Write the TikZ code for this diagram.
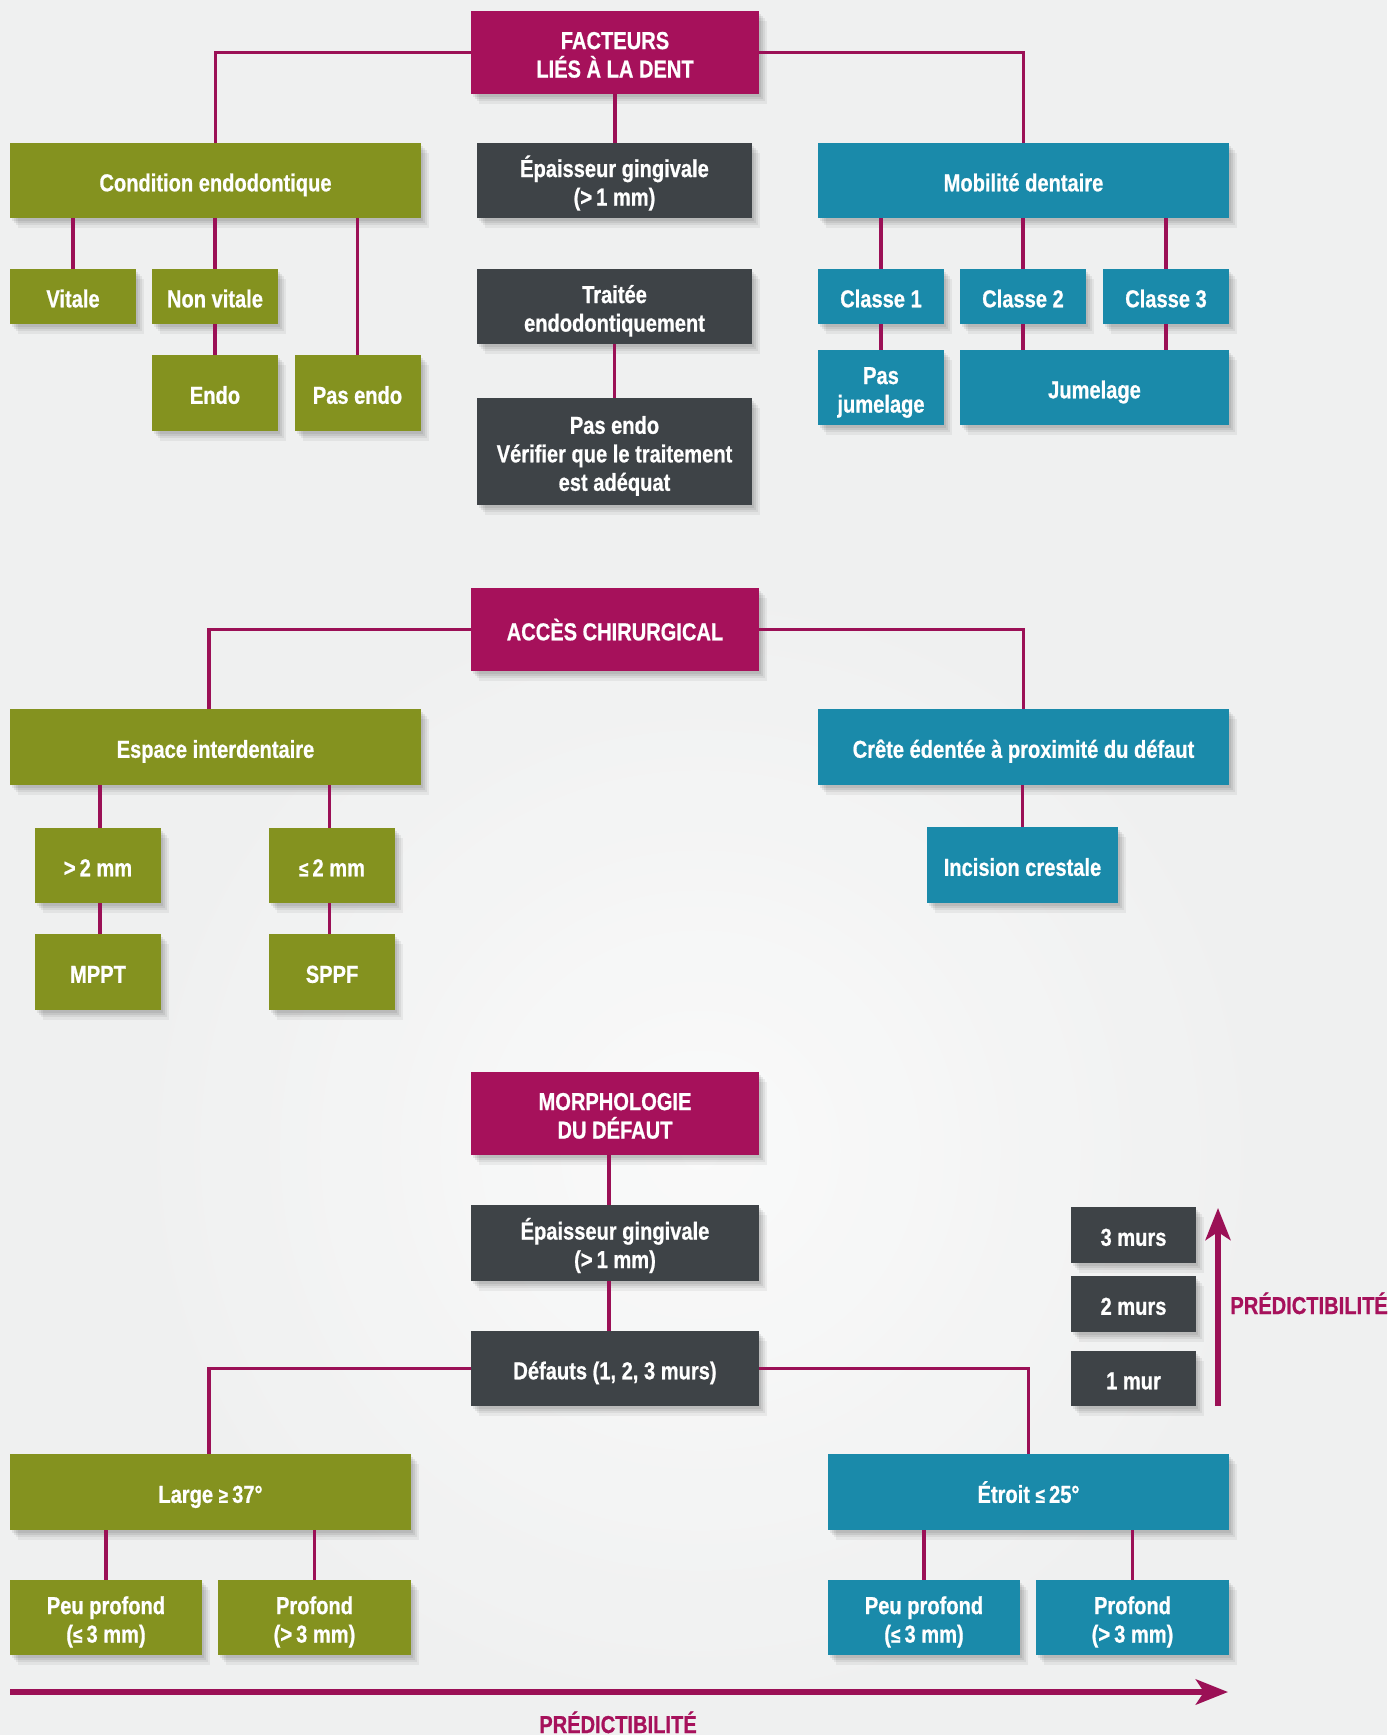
\documentclass[tikz,border=0pt]{standalone}
\usepackage{fontspec}
\setmainfont{Liberation Sans}[FakeStretch=0.82,BoldFeatures={FakeBold=0.7}]
\usetikzlibrary{shadows,arrows.meta}
\definecolor{bgc}{RGB}{239,240,240}
\definecolor{magbox}{RGB}{166,17,91}
\definecolor{conn}{RGB}{155,16,86}
\definecolor{greenbox}{RGB}{132,146,31}
\definecolor{tealbox}{RGB}{26,138,170}
\definecolor{darkbox}{RGB}{62,67,71}
\newcommand\topstrut{\rule{0pt}{13.8pt}}
\newcommand\botstrut{\rule[-3pt]{0pt}{3pt}}
\newcommand\lesign{{\fontsize{10.5}{12}\selectfont ≤}}
\newcommand\gesign{{\fontsize{10.5}{12}\selectfont ≥}}
\begin{document}
\begin{tikzpicture}[x=0.5pt,y=-0.5pt,
  box/.style={rectangle, inner sep=0pt, text=white,
    font=\bfseries\fontsize{12.25}{14.25}\selectfont, align=center,
    execute at begin node=\topstrut, execute at end node=\botstrut,
    drop shadow={shadow xshift=1pt, shadow yshift=-1.5pt, opacity=0.07, fill=black},
    drop shadow={shadow xshift=2pt, shadow yshift=-2.5pt, opacity=0.07, fill=black},
    drop shadow={shadow xshift=3pt, shadow yshift=-3.5pt, opacity=0.06, fill=black},
    drop shadow={shadow xshift=4pt, shadow yshift=-5pt, opacity=0.05, fill=black}},
  sz/.style 2 args={minimum width=#1*0.5pt, minimum height=#2*0.5pt},
  magb/.style={box, fill=magbox},
  greenb/.style={box, fill=greenbox},
  tealb/.style={box, fill=tealbox},
  darkb/.style={box, fill=darkbox},
  link/.style={draw=conn, line width=1.8pt},
  predarrow/.style={draw=conn, line width=3pt, -{Stealth[length=16pt,width=12.5pt,inset=4pt]}},
  predlabel/.style={text=magbox, font=\bfseries\fontsize{12.25}{14.25}\selectfont, inner sep=0pt}
]
\useasboundingbox (0,0) rectangle (1387,1735);
\fill[bgc] (0,0) rectangle (1387,1735);
\shade[inner color=white, outer color=bgc, opacity=0.7] (700,1150) circle[radius=600];

% ---------- Section 1 ----------
\node[magb, sz={288}{83}] (fact) at (615,52.5) {\topstrut FACTEURS\\LIÉS À LA DENT\botstrut};
\node[greenb, sz={411}{75}] (cond) at (215.5,180.5) {Condition endodontique};
\node[darkb, sz={275}{75}] (epa1) at (614.5,180.5) {\topstrut Épaisseur gingivale\\(>\,1 mm)\botstrut};
\node[tealb, sz={411}{75}] (mob) at (1023.5,180.5) {Mobilité dentaire};
\node[greenb, sz={126}{55}] (vit) at (73,296.5) {Vitale};
\node[greenb, sz={126}{55}] (nonvit) at (215,296.5) {Non vitale};
\node[greenb, sz={126}{76}] (endo) at (215,393) {Endo};
\node[greenb, sz={126}{76}] (pasendo) at (357.5,393) {Pas endo};
\node[darkb, sz={275}{75}] (trait) at (614.5,306.5) {\topstrut Traitée\\endodontiquement\botstrut};
\node[darkb, sz={275}{107}] (verif) at (614.5,451.5) {\topstrut Pas endo\\Vérifier que le traitement\\est adéquat\botstrut};
\node[tealb, sz={126}{55}] (cl1) at (881,296.5) {Classe 1};
\node[tealb, sz={126}{55}] (cl2) at (1023,296.5) {Classe 2};
\node[tealb, sz={126}{55}] (cl3) at (1166,296.5) {Classe 3};
\node[tealb, sz={126}{75}] (pasjum) at (881,387.5) {\topstrut Pas\\jumelage\botstrut};
\node[tealb, sz={269}{75}] (jum) at (1094.5,387.5) {Jumelage};

% ---------- Section 2 ----------
\node[magb, sz={288}{83}] (acces) at (615,629.5) {ACCÈS CHIRURGICAL};
\node[greenb, sz={411}{76}] (esp) at (215.5,747) {Espace interdentaire};
\node[tealb, sz={411}{76}] (crete) at (1023.5,747) {Crête édentée à proximité du défaut};
\node[greenb, sz={126}{75}] (gt2) at (98,865.5) {>\,2 mm};
\node[greenb, sz={126}{75}] (le2) at (332,865.5) {\lesign\,2 mm};
\node[greenb, sz={126}{76}] (mppt) at (98,972) {MPPT};
\node[greenb, sz={126}{76}] (sppf) at (332,972) {SPPF};
\node[tealb, sz={191}{76}] (inc) at (1022.5,865) {Incision crestale};

% ---------- Section 3 ----------
\node[magb, sz={288}{83}] (morph) at (615,1113.5) {\topstrut MORPHOLOGIE\\DU DÉFAUT\botstrut};
\node[darkb, sz={288}{76}] (epa2) at (615,1243) {\topstrut Épaisseur gingivale\\(>\,1 mm)\botstrut};
\node[darkb, sz={288}{75}] (def) at (615,1368.5) {Défauts (1, 2, 3 murs)};
\node[greenb, sz={401}{76}] (large) at (210.5,1492) {Large \gesign\,37°};
\node[tealb, sz={401}{76}] (etroit) at (1028.5,1492) {Étroit \lesign\,25°};
\node[greenb, sz={192}{75}] (pp1) at (106,1617.5) {\topstrut Peu profond\\(\lesign\,3 mm)\botstrut};
\node[greenb, sz={193}{75}] (pr1) at (314.5,1617.5) {\topstrut Profond\\(>\,3 mm)\botstrut};
\node[tealb, sz={192}{75}] (pp2) at (924,1617.5) {\topstrut Peu profond\\(\lesign\,3 mm)\botstrut};
\node[tealb, sz={193}{75}] (pr2) at (1132.5,1617.5) {\topstrut Profond\\(>\,3 mm)\botstrut};
\node[darkb, sz={125}{56}] (m3) at (1133.5,1235) {3 murs};
\node[darkb, sz={125}{56}] (m2) at (1133.5,1304) {2 murs};
\node[darkb, sz={125}{55}] (m1) at (1133.5,1378.5) {1 mur};

% ---------- Connectors ----------
\path[link] (fact.west) -| (cond.north);
\path[link] (fact.east) -| (mob.north);
\path[link] (fact.south) -- (fact.south |- epa1.north);
\path[link] (trait.south) -- (verif.north);
\path[link] (vit.north |- cond.south) -- (vit.north);
\path[link] (nonvit.north |- cond.south) -- (nonvit.north);
\path[link] (nonvit.south) -- (endo.north);
\path[link] (pasendo.north |- cond.south) -- (pasendo.north);
\path[link] (cl1.north |- mob.south) -- (cl1.north);
\path[link] (cl2.north |- mob.south) -- (cl2.north);
\path[link] (cl3.north |- mob.south) -- (cl3.north);
\path[link] (cl1.south) -- (pasjum.north);
\path[link] (cl2.south) -- (cl2.south |- jum.north);
\path[link] (cl3.south) -- (cl3.south |- jum.north);

\path[link] (acces.west) -| ([xshift=-3.25pt]esp.north);
\path[link] (acces.east) -| (crete.north);
\path[link] ([xshift=1pt]gt2.north |- esp.south) -- ([xshift=1pt]gt2.north);
\path[link] ([xshift=-1.25pt]le2.north |- esp.south) -- ([xshift=-1.25pt]le2.north);
\path[link] ([xshift=1pt]gt2.south) -- ([xshift=1pt]mppt.north);
\path[link] ([xshift=-1.25pt]le2.south) -- ([xshift=-1.25pt]sppf.north);
\path[link] (inc.north |- crete.south) -- (inc.north);

\path[link] ([xshift=-3pt]morph.south) -- ([xshift=-3pt]epa2.north);
\path[link] ([xshift=-3pt]epa2.south) -- ([xshift=-3pt]def.north);
\path[link] (def.west) -| ([xshift=-0.75pt]large.north);
\path[link] (def.east) -| (etroit.north);
\path[link] (pp1.north |- large.south) -- (pp1.north);
\path[link] (pr1.north |- large.south) -- (pr1.north);
\path[link] (pp2.north |- etroit.south) -- (pp2.north);
\path[link] (pr2.north |- etroit.south) -- (pr2.north);

% ---------- Predictability arrows ----------
\coordinate (ah1) at (10,1692);
\coordinate (ah2) at (1228,1692);
\coordinate (av1) at (1218,1406);
\coordinate (av2) at (1218,1208);
\path[predarrow] (ah1) -- (ah2);
\path[predarrow, line width=2.8pt] (av1) -- (av2);
\node[predlabel, anchor=base] (predb) at (618,1733) {PRÉDICTIBILITÉ};
\node[predlabel, anchor=base west] (predr) at (1230,1314) {PRÉDICTIBILITÉ};
\end{tikzpicture}
\end{document}
